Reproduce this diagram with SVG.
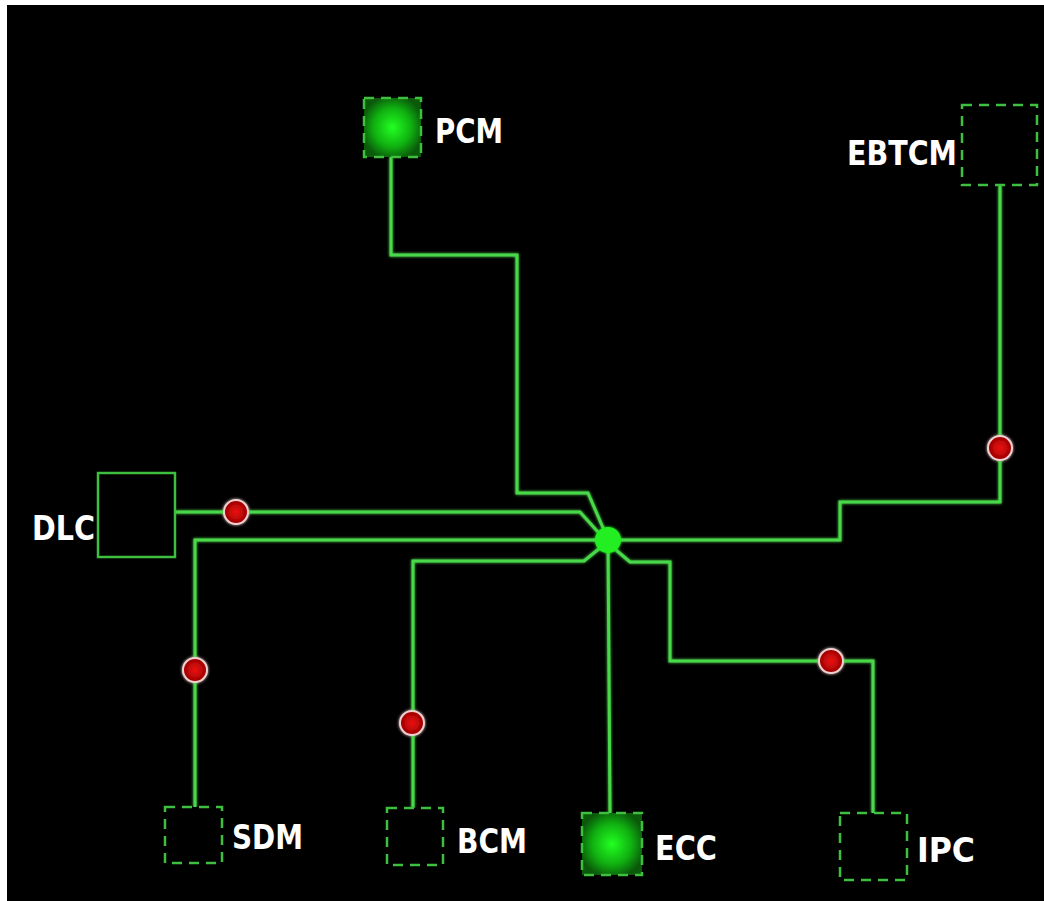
<svg xmlns="http://www.w3.org/2000/svg" width="1044" height="901" viewBox="0 0 1044 901">
<defs>
<radialGradient id="gNode" cx="50%" cy="50%" r="55%">
<stop offset="0" stop-color="#22ff22"/>
<stop offset="0.6" stop-color="#10b010"/>
<stop offset="1" stop-color="#0a5a0a"/>
</radialGradient>
<radialGradient id="gRed" cx="50%" cy="50%" r="50%">
<stop offset="0" stop-color="#ee1111"/>
<stop offset="1" stop-color="#990000"/>
</radialGradient>
<filter id="glow" x="-50%" y="-50%" width="200%" height="200%">
<feGaussianBlur stdDeviation="1.5" result="b"/>
<feMerge><feMergeNode in="b"/><feMergeNode in="SourceGraphic"/></feMerge>
</filter>
</defs>
<style>
.dash{fill:#000;stroke:#3fbf3f;stroke-width:2.5;stroke-dasharray:10 7}
.dashg{fill:url(#gNode);stroke:#3fbf3f;stroke-width:2.5;stroke-dasharray:10 7}
.solid{fill:#000;stroke:#3fbf3f;stroke-width:2.5}
.lbl{font-family:"DejaVu Sans Condensed","DejaVu Sans",sans-serif;font-weight:bold;font-size:33px;fill:#fff}
.wire{fill:none;stroke:#4ad84a;stroke-width:3;stroke-linejoin:miter}
.dot{fill:url(#gRed);stroke:#f0d0d0;stroke-width:2}
</style>
<rect x="0" y="0" width="1044" height="901" fill="#fff"/>
<rect x="7" y="5" width="1037" height="896" fill="#000"/>

<g id="connectors" filter="url(#glow)">
<polyline class="wire" points="391,157 391,255 517,255 517,493 588,493 604,530"/>
<polyline class="wire" points="175,512 580,512 598,532"/>
<polyline class="wire" points="195,807 195,540 608,540"/>
<polyline class="wire" points="413,808 413,561 584,561 600,548"/>
<polyline class="wire" points="608,540 610,813"/>
<polyline class="wire" points="616,550 630,562 670,562 670,661 873,661 873,813"/>
<polyline class="wire" points="608,540 840,540 840,502 1000,502 1000,186"/>
<circle class="dot" cx="236" cy="512" r="12"/>
<circle class="dot" cx="195" cy="670" r="12"/>
<circle class="dot" cx="412" cy="723" r="12"/>
<circle class="dot" cx="831" cy="661" r="12"/>
<circle class="dot" cx="1000" cy="448" r="12"/>
</g>

<g id="hub">
<circle cx="608" cy="540" r="13" fill="#22ee22" filter="url(#glow)"/>
</g>

<g id="PCM">
<rect class="dashg" x="364" y="98" width="57" height="59"/>
<text class="lbl" x="435" y="143" textLength="68" lengthAdjust="spacingAndGlyphs">PCM</text>
</g>
<g id="EBTCM">
<rect class="dash" x="962" y="105" width="75" height="80"/>
<text class="lbl" x="847" y="165" textLength="110" lengthAdjust="spacingAndGlyphs">EBTCM</text>
</g>
<g id="DLC">
<rect class="solid" x="98" y="473" width="77" height="84"/>
<text class="lbl" x="32" y="540" textLength="63" lengthAdjust="spacingAndGlyphs">DLC</text>
</g>
<g id="SDM">
<rect class="dash" x="165" y="807" width="57" height="56"/>
<text class="lbl" x="232" y="849" textLength="71" lengthAdjust="spacingAndGlyphs">SDM</text>
</g>
<g id="BCM">
<rect class="dash" x="387" y="808" width="56" height="57"/>
<text class="lbl" x="457" y="853" textLength="70" lengthAdjust="spacingAndGlyphs">BCM</text>
</g>
<g id="ECC">
<rect class="dashg" x="582" y="813" width="60" height="62"/>
<text class="lbl" x="655" y="860" textLength="62" lengthAdjust="spacingAndGlyphs">ECC</text>
</g>
<g id="IPC">
<rect class="dash" x="840" y="813" width="67" height="67"/>
<text class="lbl" x="917" y="862" textLength="58" lengthAdjust="spacingAndGlyphs">IPC</text>
</g>
</svg>
